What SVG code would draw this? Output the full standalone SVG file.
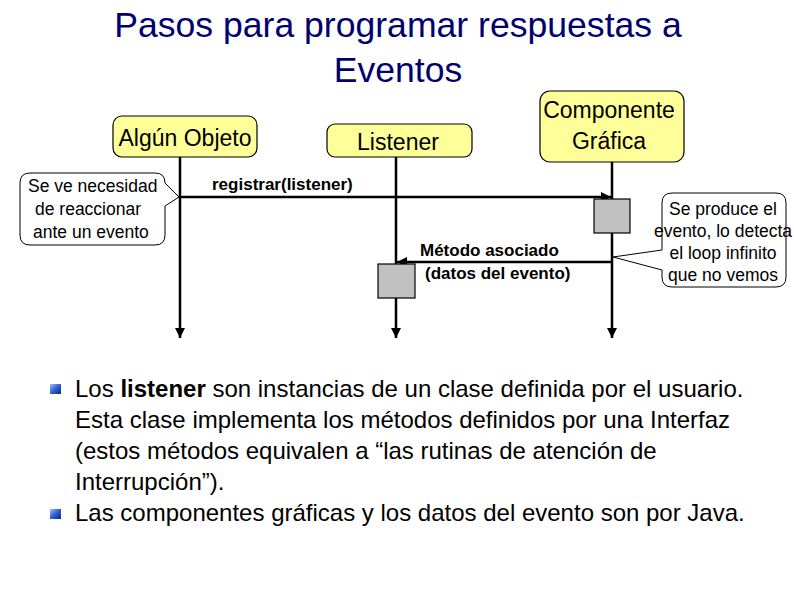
<svg xmlns="http://www.w3.org/2000/svg" width="794" height="595" viewBox="0 0 794 595">
<style>
  .t { font-family: "Liberation Sans", Arial, sans-serif; fill: #000; }
  .node rect.box { fill: #FFFF99; stroke: #000; stroke-width: 1.2; }
  .lbl { font-size: 23px; text-anchor: middle; }
  .life { stroke: #000; stroke-width: 2.5; fill: none; }
  .msg { stroke: #000; stroke-width: 2.5; fill: none; }
  .act { fill: #C0C0C0; stroke: #000; stroke-width: 1.2; }
  .call { fill: #fff; stroke: #000; stroke-width: 1; }
  .ct { font-size: 17.5px; }
  .bt { font-size: 17px; font-weight: bold; }
  .body { font-size: 24px; }
</style>
<defs>
  <marker id="ah" viewBox="0 0 10 10" refX="10" refY="5" markerWidth="4" markerHeight="4" orient="auto" markerUnits="strokeWidth">
    <path d="M0,0 L10,5 L0,10 z" fill="#000"/>
  </marker>
  <linearGradient id="bul" x1="0" y1="0" x2="1" y2="1">
    <stop offset="0" stop-color="#9fc0ff"/>
    <stop offset="0.5" stop-color="#2f5fd0"/>
    <stop offset="1" stop-color="#0a2a80"/>
  </linearGradient>
</defs>
<rect width="794" height="595" fill="#fff"/>

<g id="title" class="t">
  <text x="398" y="37" font-size="35.6" text-anchor="middle" fill="#000070">Pasos para programar respuestas a</text>
  <text x="398" y="82" font-size="35.6" text-anchor="middle" fill="#000070">Eventos</text>
</g>

<g id="connectors">
  <line class="life" x1="180" y1="157" x2="180" y2="338" marker-end="url(#ah)"/>
  <line class="life" x1="396" y1="157" x2="396" y2="338" marker-end="url(#ah)"/>
  <line class="life" x1="612" y1="162" x2="612" y2="338" marker-end="url(#ah)"/>
  <line class="msg" x1="180" y1="197" x2="611" y2="197" marker-end="url(#ah)"/>
  <line class="msg" x1="612" y1="262" x2="397" y2="262" marker-end="url(#ah)"/>
  <text class="t bt" x="212" y="190">registrar(listener)</text>
  <text class="t bt" x="420" y="256">Método asociado</text>
  <text class="t bt" x="425" y="279">(datos del evento)</text>
</g>

<g id="algun-objeto" class="node">
  <rect class="box" x="113" y="116" width="144" height="41" rx="9"/>
  <text class="t lbl" x="185" y="146">Algún Objeto</text>
</g>
<g id="listener" class="node">
  <rect class="box" x="327" y="124" width="145" height="33" rx="8"/>
  <text class="t lbl" x="398" y="150">Listener</text>
</g>
<g id="componente-grafica" class="node">
  <rect class="box" x="540" y="91" width="144" height="71" rx="10"/>
  <text class="t lbl" x="609" y="118">Componente</text>
  <text class="t lbl" x="609" y="149">Gráfica</text>
</g>

<g id="act-componente">
  <rect class="act" x="594" y="199" width="36" height="34"/>
</g>
<g id="act-listener">
  <rect class="act" x="378" y="264" width="37" height="34"/>
</g>

<g id="callout-left">
  <path class="call" d="M30,173 H155 Q165,173 165,183 L179,197 L165,206 V235 Q165,245 155,245 H30 Q20,245 20,235 V183 Q20,173 30,173 Z"/>
  <text class="t ct" x="28" y="192">Se ve necesidad</text>
  <text class="t ct" x="35" y="215">de reaccionar</text>
  <text class="t ct" x="33" y="238">ante un evento</text>
</g>

<g id="callout-right">
  <path class="call" d="M672,193 H776 Q786,193 786,203 V277 Q786,287 776,287 H672 Q662,287 662,277 V270 L613,257 L662,250 V203 Q662,193 672,193 Z"/>
  <text class="t ct" x="723" y="215" text-anchor="middle">Se produce el</text>
  <text class="t ct" x="723" y="237" text-anchor="middle">evento, lo detecta</text>
  <text class="t ct" x="723" y="259" text-anchor="middle">el loop infinito</text>
  <text class="t ct" x="723" y="281" text-anchor="middle">que no vemos</text>
</g>

<g id="bullets">
  <rect x="50" y="384" width="11" height="10" fill="url(#bul)"/>
  <rect x="50" y="509" width="11" height="10" fill="url(#bul)"/>
  <text class="t body" x="75" y="397">Los <tspan font-weight="bold">listener</tspan> son instancias de un clase definida por el usuario.</text>
  <text class="t body" x="75" y="428">Esta clase implementa los métodos definidos por una Interfaz</text>
  <text class="t body" x="75" y="459">(estos métodos equivalen a “las rutinas de atención de</text>
  <text class="t body" x="75" y="490">Interrupción”).</text>
  <text class="t body" x="75" y="521">Las componentes gráficas y los datos del evento son por Java.</text>
</g>
</svg>
